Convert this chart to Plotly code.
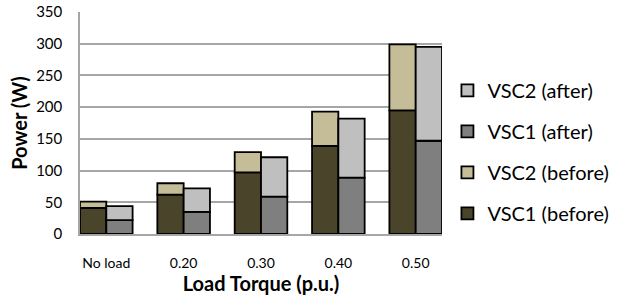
import plotly.graph_objects as go

categories = ["No load", "0.20", "0.30", "0.40", "0.50"]
vsc1_before = [41, 62, 97, 139, 195]
vsc2_before = [10, 18, 32, 54, 104]
vsc1_after = [22, 35, 59, 89, 147]
vsc2_after = [22, 37, 62, 93, 148]
y_ticks = [0, 50, 100, 150, 200, 250, 300, 350]

colors = {
    "VSC1 (before)": "#4A442A",
    "VSC2 (before)": "#C4BD97",
    "VSC1 (after)": "#7F7F7F",
    "VSC2 (after)": "#BFBFBF",
}

fig = go.Figure()
line = dict(color="#000000", width=1.8)
fig.add_trace(go.Bar(x=categories, y=vsc1_before, name="VSC1 (before)", offsetgroup="b",
                     marker=dict(color=colors["VSC1 (before)"], line=line),
                     legendgroup="g1", legendrank=4))
fig.add_trace(go.Bar(x=categories, y=vsc2_before, base=vsc1_before, name="VSC2 (before)", offsetgroup="b",
                     marker=dict(color=colors["VSC2 (before)"], line=line),
                     legendgroup="g2", legendrank=3))
fig.add_trace(go.Bar(x=categories, y=vsc1_after, name="VSC1 (after)", offsetgroup="a",
                     marker=dict(color=colors["VSC1 (after)"], line=line),
                     legendgroup="g3", legendrank=2))
fig.add_trace(go.Bar(x=categories, y=vsc2_after, base=vsc1_after, name="VSC2 (after)", offsetgroup="a",
                     marker=dict(color=colors["VSC2 (after)"], line=line),
                     legendgroup="g4", legendrank=1))

font = "Lato, 'Open Sans', sans-serif"
fig.update_layout(
    width=626, height=299,
    margin=dict(l=80, r=175, t=12, b=65),
    plot_bgcolor="white", paper_bgcolor="white",
    barmode="group", bargap=0.32, bargroupgap=0,
    font=dict(family=font, size=13, color="#000000"),
    legend=dict(x=1.015, xanchor="left", y=0.37, yanchor="middle",
                traceorder="grouped", tracegroupgap=12,
                font=dict(size=20, family=font), itemwidth=30),
    xaxis=dict(range=[-0.34, 4.34], showline=True, linecolor="#A6A6A6", linewidth=1.5,
               ticks="", showgrid=False, tickfont=dict(size=14), automargin=False,
               ticklabelstandoff=15,
               title=dict(text="<b>Load Torque (p.u.)</b>", font=dict(size=20), standoff=0)),
    yaxis=dict(range=[0, 350], tickvals=y_ticks, showline=True, linecolor="#A6A6A6", linewidth=1.5,
               gridcolor="#A6A6A6", gridwidth=1.5, ticks="", tickfont=dict(size=15),
               zeroline=False, automargin=False, ticklabelstandoff=13,
               title=dict(text="<b>Power (W)</b>", font=dict(size=20), standoff=3)),
)

fig.write_html("out.html", post_script="document.body.style.margin='0';",
               config={"displayModeBar": False})
